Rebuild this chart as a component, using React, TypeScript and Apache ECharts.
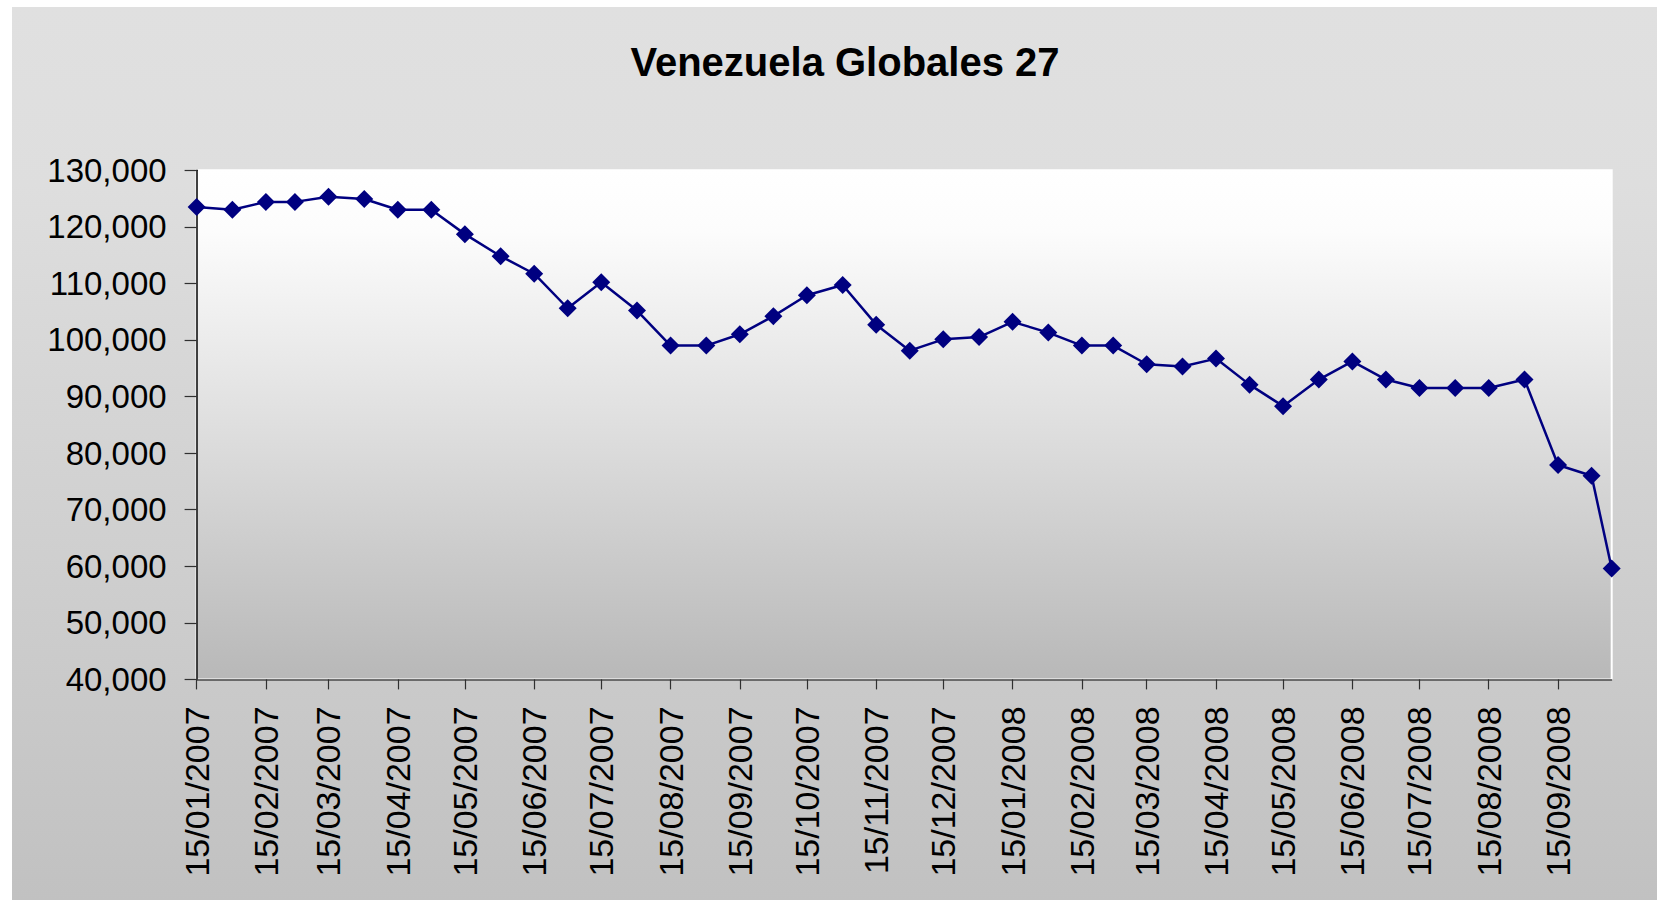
import React, { useEffect, useRef } from "react";
import * as echarts from "echarts";

const TITLE = "Venezuela Globales 27";

const dates: string[] = [
  "2007-01-15", "2007-01-31", "2007-02-15", "2007-02-28", "2007-03-15", "2007-03-31",
  "2007-04-15", "2007-04-30", "2007-05-15", "2007-05-31", "2007-06-15", "2007-06-30",
  "2007-07-15", "2007-07-31", "2007-08-15", "2007-08-31", "2007-09-15", "2007-09-30",
  "2007-10-15", "2007-10-31", "2007-11-15", "2007-11-30", "2007-12-15", "2007-12-31",
  "2008-01-15", "2008-01-31", "2008-02-15", "2008-02-29", "2008-03-15", "2008-03-31",
  "2008-04-15", "2008-04-30", "2008-05-15", "2008-05-31", "2008-06-15", "2008-06-30",
  "2008-07-15", "2008-07-31", "2008-08-15", "2008-08-31", "2008-09-15", "2008-09-30",
  "2008-10-09",
];

const values: number[] = [
  123500, 123000, 124400, 124400, 125300, 124900,
  123000, 123000, 118700, 114800, 111700, 105600,
  110200, 105200, 99000, 99000, 101000, 104200,
  107900, 109700, 102700, 98100, 100100, 100500,
  103200, 101300, 99000, 99000, 95700, 95300,
  96700, 92100, 88300, 93000, 96200, 93000,
  91500, 91500, 91500, 93000, 77900, 76000,
  59600,
];

const tickDates: string[] = [
  "2007-01-15", "2007-02-15", "2007-03-15", "2007-04-15", "2007-05-15", "2007-06-15",
  "2007-07-15", "2007-08-15", "2007-09-15", "2007-10-15", "2007-11-15", "2007-12-15",
  "2008-01-15", "2008-02-15", "2008-03-15", "2008-04-15", "2008-05-15", "2008-06-15",
  "2008-07-15", "2008-08-15", "2008-09-15",
];

const Y_MIN = 40000;
const Y_MAX = 130000;
const Y_STEP = 10000;
const X_MIN = "2007-01-15";
const X_MAX = "2008-10-09";

const DAY = 86400000;
const BASE = Date.UTC(2007, 0, 15);

// days since the first date (UTC based, timezone independent)
function toDay(s: string): number {
  const [y, m, d] = s.split("-").map(Number);
  return Math.round((Date.UTC(y, m - 1, d) - BASE) / DAY);
}

function fmtDay(v: number): string {
  const d = new Date(BASE + Math.round(v) * DAY);
  const dd = String(d.getUTCDate()).padStart(2, "0");
  const mm = String(d.getUTCMonth() + 1).padStart(2, "0");
  return `${dd}/${mm}/${d.getUTCFullYear()}`;
}

export default function App() {
  const ref = useRef<HTMLDivElement>(null);

  useEffect(() => {
    if (!ref.current) return;
    const chart = echarts.init(ref.current, undefined, { renderer: "svg" });
    const font = "'Liberation Sans', Arial, sans-serif";
    const ticks = tickDates.map(toDay);
    chart.setOption({
      animation: false,
      backgroundColor: new echarts.graphic.LinearGradient(0, 0, 0, 1, [
        { offset: 0, color: "#e0e0e0" },
        { offset: 0.2, color: "#dedede" },
        { offset: 1, color: "#c1c1c1" },
      ]),
      title: {
        text: TITLE,
        left: 828,
        top: 30,
        textAlign: "center",
        textStyle: { fontFamily: font, fontSize: 40, fontWeight: "bold", color: "#000" },
      },
      grid: {
        left: 184.6,
        top: 163.2,
        width: 1415.1,
        height: 509.2,
        show: true,
        backgroundColor: new echarts.graphic.LinearGradient(0, 0, 0, 1, [
          { offset: 0, color: "#ffffff" },
          { offset: 0.12, color: "#fcfcfc" },
          { offset: 1, color: "#b8b8b8" },
        ]),
        borderColor: "#ffffff",
        borderWidth: 2,
      },
      xAxis: {
        type: "value",
        min: toDay(X_MIN),
        max: toDay(X_MAX),
        splitLine: { show: false },
        axisLine: { show: true, lineStyle: { color: "#404040", width: 1.5 } },
        axisTick: {
          show: true,
          length: 10,
          customValues: ticks,
          lineStyle: { color: "#303030", width: 1.2 },
        },
        axisLabel: {
          customValues: ticks,
          formatter: (v: number) => fmtDay(v),
          rotate: 90,
          margin: 27,
          fontFamily: font,
          fontSize: 34,
          color: "#000",
        },
      },
      yAxis: {
        type: "value",
        min: Y_MIN,
        max: Y_MAX,
        interval: Y_STEP,
        splitLine: { show: false },
        axisLine: { show: true, lineStyle: { color: "#000", width: 1.5 } },
        axisTick: { show: true, length: 12, lineStyle: { color: "#303030", width: 1.2 } },
        axisLabel: {
          margin: 30,
          fontFamily: font,
          fontSize: 33,
          color: "#000",
          formatter: (v: number) => v.toLocaleString("en-US"),
        },
      },
      series: [
        {
          type: "line",
          data: dates.map((d, i) => [toDay(d), values[i]]),
          symbol: "diamond",
          symbolSize: 18,
          clip: false,
          lineStyle: { color: "#000080", width: 2.5 },
          itemStyle: { color: "#000080" },
        },
      ],
    });
    return () => chart.dispose();
  }, []);

  return (
    <div
      ref={ref}
      style={{ position: "fixed", left: 12, top: 7, width: 1645, height: 893 }}
    />
  );
}
